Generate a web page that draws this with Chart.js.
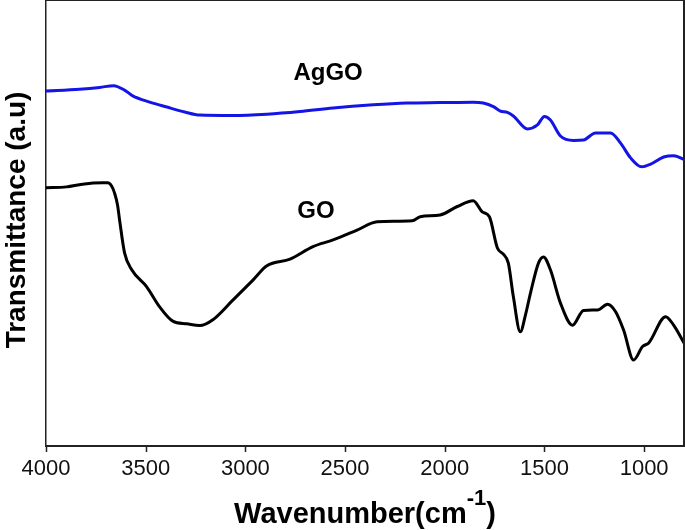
<!DOCTYPE html>
<html>
<head>
<meta charset="utf-8">
<script src="https://cdn.jsdelivr.net/npm/chart.js@4.4.0/dist/chart.umd.min.js"></script>
<style>
  html, body { margin: 0; padding: 0; background: #fff; }
</style>
</head>
<body>
<canvas id="ftir" width="685" height="530"></canvas>
<script>
// FTIR spectra, wavenumber (cm-1) vs transmittance (arbitrary units)
const wnAgGO = [4000, 3832, 3731, 3661, 3606, 3565, 3480, 3394, 3304, 3229, 3063, 2892, 2726, 2560,
  2359, 2188, 2023, 1857, 1807, 1756, 1721, 1686, 1656, 1585, 1535, 1500, 1470, 1420, 1354,
  1304, 1244, 1168, 1118, 1068, 1013, 967, 902, 852, 800];
const tAgGO = [79.6, 80.0, 80.4, 80.8, 79.8, 78.5, 77.1, 76.0, 74.9, 74.2, 74.1, 74.4, 75.0, 75.8,
  76.5, 76.9, 77.0, 77.1, 76.9, 76.1, 75.1, 74.8, 74.0, 71.1, 72.0, 73.9, 73.1, 69.5, 68.5,
  68.6, 70.2, 70.2, 67.9, 64.6, 62.6, 63.2, 64.8, 65.1, 64.3];

const wnGO = [4000, 3897, 3817, 3716, 3691, 3671, 3656, 3641, 3631, 3606, 3570, 3495, 3430, 3364,
  3294, 3229, 3163, 3063, 2962, 2892, 2776, 2661, 2560, 2440, 2339, 2163, 2123, 2023, 1937,
  1857, 1812, 1776, 1736, 1706, 1681, 1656, 1621, 1595, 1570, 1530, 1505, 1470, 1420, 1359,
  1304, 1234, 1183, 1143, 1103, 1053, 1008, 977, 892, 852, 800];
const tGO = [57.9, 58.1, 58.7, 59.0, 59.0, 58.3, 56.7, 54.0, 50.7, 43.3, 39.5, 35.7, 31.2, 28.0,
  27.4, 27.0, 28.3, 32.7, 37.2, 40.4, 41.9, 44.7, 46.2, 48.4, 50.3, 50.5, 51.4, 51.8, 53.7,
  55.0, 52.5, 51.4, 44.4, 43.0, 41.0, 33.5, 25.6, 29.4, 34.3, 41.0, 42.4, 39.5, 32.1, 27.1,
  30.4, 30.5, 31.8, 30.1, 26.0, 19.3, 22.3, 23.1, 29.0, 27.1, 23.1];

const xTicks = [4000, 3500, 3000, 2500, 2000, 1500, 1000];
const seriesNames = ['AgGO', 'GO'];
// where each series name sits, in data units
const nameAt = [[2585, 83.6], [2646, 52.7]];

const FONT = '"Liberation Sans", Arial, Helvetica, sans-serif';

function pts(xs, ys) {
  return xs.map((v, i) => ({ x: v, y: ys[i] }));
}

const decorations = {
  id: 'decorations',
  afterDraw(chart) {
    const { ctx, chartArea: a, scales: { x, y } } = chart;
    ctx.save();

    // top and right edge of the frame
    ctx.strokeStyle = '#222';
    ctx.lineWidth = 1;
    ctx.beginPath();
    ctx.moveTo(a.left, 0.5);
    ctx.lineTo(a.right, 0.5);
    ctx.stroke();
    ctx.lineWidth = 2;
    ctx.beginPath();
    ctx.moveTo(a.right, 0);
    ctx.lineTo(a.right, a.bottom);
    ctx.stroke();

    // tick marks under the x axis
    ctx.lineWidth = 1.5;
    xTicks.forEach(v => {
      const px = Math.round(x.getPixelForValue(v)) + 0.5;
      ctx.beginPath();
      ctx.moveTo(px, a.bottom);
      ctx.lineTo(px, a.bottom + 6);
      ctx.stroke();
    });

    // series names on the plot
    ctx.fillStyle = '#000';
    ctx.font = 'bold 24px ' + FONT;
    ctx.textAlign = 'center';
    ctx.textBaseline = 'middle';
    chart.data.datasets.forEach((ds, i) => {
      ctx.fillText(ds.label, x.getPixelForValue(nameAt[i][0]), y.getPixelForValue(nameAt[i][1]));
    });

    // x title with superscript
    const main = 'Wavenumber(cm', sup = '-1', close = ')';
    ctx.textAlign = 'left';
    ctx.textBaseline = 'alphabetic';
    ctx.font = 'bold 29px ' + FONT;
    const wMain = ctx.measureText(main).width;
    const wClose = ctx.measureText(close).width;
    ctx.font = 'bold 22px ' + FONT;
    const wSup = ctx.measureText(sup).width;
    let sx = (a.left + a.right) / 2 - (wMain + wSup + wClose) / 2;
    ctx.font = 'bold 29px ' + FONT;
    ctx.fillText(main, sx, 523);
    sx += wMain;
    ctx.font = 'bold 22px ' + FONT;
    ctx.fillText(sup, sx, 505);
    sx += wSup;
    ctx.font = 'bold 29px ' + FONT;
    ctx.fillText(close, sx, 523);

    // y title
    ctx.font = 'bold 28px ' + FONT;
    ctx.textAlign = 'center';
    ctx.translate(25, 220);
    ctx.rotate(-Math.PI / 2);
    ctx.fillText('Transmittance (a.u)', 0, 0);

    ctx.restore();
  }
};

new Chart(document.getElementById('ftir'), {
  type: 'line',
  data: {
    datasets: [
      {
        label: seriesNames[0],
        data: pts(wnAgGO, tAgGO),
        borderColor: '#1414e6',
        borderWidth: 3,
        pointRadius: 0,
        cubicInterpolationMode: 'monotone'
      },
      {
        label: seriesNames[1],
        data: pts(wnGO, tGO),
        borderColor: '#000',
        borderWidth: 3,
        pointRadius: 0,
        cubicInterpolationMode: 'monotone'
      }
    ]
  },
  options: {
    responsive: false,
    devicePixelRatio: 1,
    animation: false,
    layout: { padding: { top: 0, right: 1, left: 0, bottom: 0 } },
    plugins: { legend: { display: false }, tooltip: { enabled: false } },
    scales: {
      x: {
        type: 'linear',
        min: 800,
        max: 4000,
        reverse: true,
        afterBuildTicks: s => { s.ticks = xTicks.map(v => ({ value: v })); },
        afterFit: s => { s.height = 84; },
        ticks: {
          font: { family: FONT, size: 22 },
          color: '#111',
          padding: 2,
          maxRotation: 0,
          autoSkip: false,
          callback: v => String(v)
        },
        grid: { display: false },
        border: { color: '#222', width: 2 }
      },
      y: {
        min: 0,
        max: 100,
        afterFit: s => { s.width = 46; },
        ticks: { display: false },
        grid: { display: false },
        border: { display: true, color: '#222', width: 1.5 }
      }
    }
  },
  plugins: [decorations]
});
</script>
</body>
</html>
